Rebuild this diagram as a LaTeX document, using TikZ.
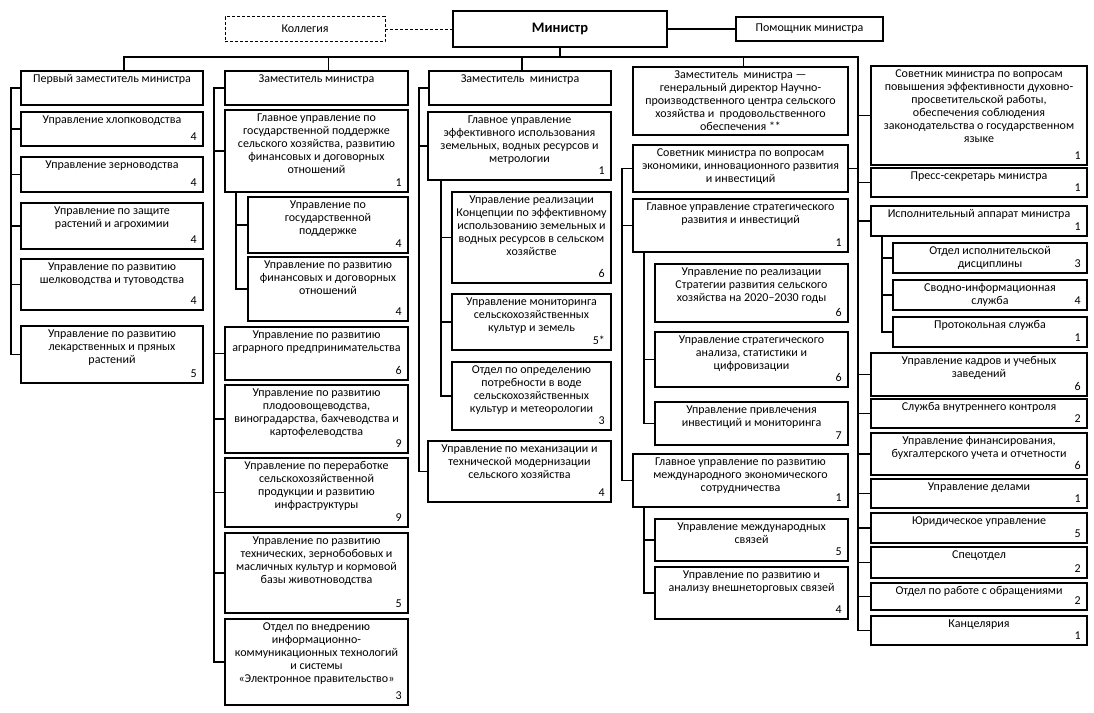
\documentclass[tikz,border=0pt]{standalone}
\usepackage{fontspec}
\setmainfont{Carlito}
\tikzset{
  box/.style={draw, line width=1.2pt, rectangle, inner sep=0pt, outer sep=0pt},
  txt/.style={align=center, inner xsep=2pt, inner ysep=3.5pt, font=\fontsize{12}{13}\selectfont},
  num/.style={inner sep=2pt, font=\fontsize{12}{13}\selectfont, xshift=-4pt, yshift=3.5pt},
  ln/.style={line width=1.2pt},
}
\newcommand{\mkbox}[7]{%
  \node[box, minimum width={#4-#2}, minimum height={#5-#3}, anchor=north west] (#1) at (#2,#3) {};
  \node[txt, anchor=north] (#1-t) at (#1.north) {#6};
  \node[num, anchor=south east] (#1-n) at (#1.south east) {#7};
}
\begin{document}
\begin{tikzpicture}[x=1pt,y=-1pt]
\useasboundingbox[fill=white] (0,0) rectangle (1094,712);
% top
\node[box, minimum width=214, minimum height=36, anchor=north west, font=\bfseries\fontsize{14.5}{16}\selectfont] (min) at (453,11) {Министр};
\node[box, dashed, line width=1pt, dash pattern=on 3pt off 2pt, minimum width=160, minimum height=25, anchor=north west, font=\fontsize{12}{13}\selectfont] (kol) at (225,16.5) {Коллегия};
\node[box, minimum width=147, minimum height=24, anchor=north west, font=\fontsize{12}{13}\selectfont] (pom) at (736,17) {Помощник министра};
\draw[ln, dashed, line width=1pt, dash pattern=on 3pt off 2pt] (kol.east) -- (min.west);
\draw[ln] (min.east) -- (pom.west);
% column 1
\mkbox{hA}{21}{71}{203}{105}{Первый заместитель министра}{}
\mkbox{a1}{21}{112}{203}{146}{Управление хлопководства}{4}
\mkbox{a2}{21}{157}{203}{192}{Управление зерноводства}{4}
\mkbox{a3}{21}{203}{203}{249}{Управление по защите\\растений и агрохимии}{4}
\mkbox{a4}{21}{259}{203}{310}{Управление по развитию\\шелководства и тутоводства}{4}
\mkbox{a5}{21}{326}{203}{383}{Управление по развитию\\лекарственных и пряных\\растений}{5}
% column 2
\mkbox{hB}{225}{71}{408}{105}{Заместитель министра}{}
\mkbox{b1}{225}{110}{408}{192}{Главное управление по\\государственной поддержке\\сельского хозяйства, развитию\\финансовых и договорных\\отношений}{1}
\mkbox{b11}{248}{197}{408}{253}{Управление по\\государственной\\поддержке}{4}
\mkbox{b12}{248}{257}{408}{321}{Управление по развитию\\финансовых и договорных\\отношений}{4}
\mkbox{b2}{225}{327}{408}{380}{Управление по развитию\\аграрного предпринимательства}{6}
\mkbox{b3}{225}{385}{408}{453}{Управление по развитию\\плодоовощеводства,\\виноградарства, бахчеводства и\\картофелеводства}{9}
\mkbox{b4}{225}{458}{408}{527}{Управление по переработке\\сельскохозяйственной\\продукции и развитию\\инфраструктуры}{9}
\mkbox{b5}{225}{533}{408}{613}{Управление по развитию\\технических, зернобобовых и\\масличных культур и кормовой\\базы животноводства}{5}
\mkbox{b6}{225}{619}{408}{705}{Отдел по внедрению\\информационно-\\коммуникационных технологий\\и системы\\«Электронное правительство»}{3}
% column 3
\mkbox{hC}{429}{71}{611}{105}{Заместитель~ министра}{}
\mkbox{c1}{428}{112}{611}{180}{Главное управление\\эффективного использования\\земельных, водных ресурсов и\\метрологии}{1}
\mkbox{c11}{452}{192}{611}{283}{Управление реализации\\Концепции по эффективному\\использованию земельных и\\водных ресурсов в сельском\\хозяйстве}{6}
\mkbox{c12}{452}{294}{611}{350}{Управление мониторинга\\сельскохозяйственных\\культур и земель}{5*}
\mkbox{c13}{452}{362}{611}{430}{Отдел по определению\\потребности в воде\\сельскохозяйственных\\культур и метеорологии}{3}
\mkbox{c2}{428}{441}{611}{502}{Управление по механизации и\\технической модернизации\\сельского хозяйства}{4}
% column 4
\mkbox{hD}{633}{67}{848}{135}{Заместитель~ министра —\\генеральный директор Научно-\\производственного центра сельского\\хозяйства и~ продовольственного\\обеспечения **}{}
\mkbox{d0}{633}{145}{848}{192}{Советник министра по вопросам\\экономики, инновационного развития\\и инвестиций}{}
\mkbox{d1}{633}{199}{848}{252}{Главное управление стратегического\\развития и инвестиций}{1}
\mkbox{d11}{655}{264}{848}{322}{Управление по реализации\\Стратегии развития сельского\\хозяйства на 2020–2030 годы}{6}
\mkbox{d12}{655}{332}{848}{387}{Управление стратегического\\анализа, статистики и\\цифровизации}{6}
\mkbox{d13}{655}{402}{848}{445}{Управление привлечения\\инвестиций и мониторинга}{7}
\mkbox{d2}{633}{454}{848}{507}{Главное управление по развитию\\международного экономического\\сотрудничества}{1}
\mkbox{d21}{655}{519}{848}{561}{Управление международных\\связей}{5}
\mkbox{d22}{655}{567}{848}{619}{Управление по развитию и\\анализу внешнеторговых связей}{4}
% column 5
\mkbox{e1}{871}{66}{1087}{165}{Советник министра по вопросам\\повышения эффективности духовно-\\просветительской работы,\\обеспечения соблюдения\\законодательства о государственном\\языке}{1}
\mkbox{e2}{871}{168}{1087}{197}{Пресс-секретарь министра}{1}
\mkbox{e3}{871}{206}{1087}{236}{Исполнительный аппарат министра}{1}
\mkbox{e31}{893}{243}{1087}{273}{Отдел исполнительской\\дисциплины}{3}
\mkbox{e32}{893}{280}{1087}{310}{Сводно-информационная\\служба}{4}
\mkbox{e33}{893}{317}{1087}{347}{Протокольная служба}{1}
\mkbox{e4}{871}{353}{1087}{396}{Управление кадров и учебных\\заведений}{6}
\mkbox{e5}{871}{399}{1087}{428}{Служба внутреннего контроля}{2}
\mkbox{e6}{871}{433}{1087}{475}{Управление финансирования,\\бухгалтерского учета и отчетности}{6}
\mkbox{e7}{871}{479}{1087}{508}{Управление делами}{1}
\mkbox{e8}{871}{513}{1087}{543}{Юридическое управление}{5}
\mkbox{e9}{871}{547}{1087}{578}{Спецотдел}{2}
\mkbox{e10}{871}{583}{1087}{610}{Отдел по работе с обращениями}{2}
\mkbox{e11}{871}{616}{1087}{645}{Канцелярия}{1}
% bus
\coordinate (busL) at (124,57);
\coordinate (busR) at (858,57);
\draw[ln] (min.south) -- (min.south |- busL);
\draw[ln] ([xshift=12pt]hA.north) -- ([xshift=12pt]hA.north |- busL) -- (busR) |- (e11.west);
\draw[ln] ([xshift=12pt]hB.north) -- ([xshift=12pt]hB.north |- busL);
\draw[ln] ([xshift=2pt]hC.north) -- ([xshift=2pt]hC.north |- busL);
\draw[ln] ([xshift=3pt]hD.north) -- ([xshift=3pt]hD.north |- busL);
% column 1 spine
\draw[ln] (hA.west) -- ++(-10,0) |- (a5.west);
\foreach \n in {a1,a2,a3,a4} \draw[ln] (\n.west) -- ++(-10,0);
% column 2 spine
\draw[ln] (hB.west) -- ++(-11,0) |- (b6.west);
\foreach \n in {b1,b2,b3,b4,b5} \draw[ln] (\n.west) -- ++(-11,0);
\draw[ln] ([xshift=11pt]b1.south west) |- (b12.west);
\draw[ln] ([xshift=11pt]b1.south west |- b11.west) -- (b11.west);
% column 3 spine
\draw[ln] (hC.west) -- ++(-10,0) |- (c2.west);
\draw[ln] (c1.west) -- ++(-9,0);
\draw[ln] ([xshift=13pt]c1.south west) |- (c13.west);
\foreach \n in {c11,c12} \draw[ln] ([xshift=13pt]c1.south west |- \n.west) -- (\n.west);
% column 4 spine
\draw[ln] (d0.west) -- ++(-11,0) |- (d2.west);
\draw[ln] (d1.west) -- ++(-11,0);
\draw[ln] ([xshift=11pt]d1.south west) |- (d13.west);
\draw[ln] ([xshift=11pt]d1.south west |- d12.west) -- (d12.west);
\draw[ln] ([xshift=11pt]d2.south west) |- (d22.west);
\draw[ln] ([xshift=11pt]d2.south west |- d21.west) -- (d21.west);
\draw[ln] (d0.east) -- (busR |- d0.east);
% column 5 spine
\foreach \n in {e1,e2,e3,e4,e5,e6,e7,e8,e9,e10} \draw[ln] (busR |- \n.west) -- (\n.west);
\draw[ln] ([xshift=11pt]e3.south west) |- (e33.west);
\foreach \n in {e31,e32} \draw[ln] ([xshift=11pt]e3.south west |- \n.west) -- (\n.west);
\end{tikzpicture}
\end{document}
